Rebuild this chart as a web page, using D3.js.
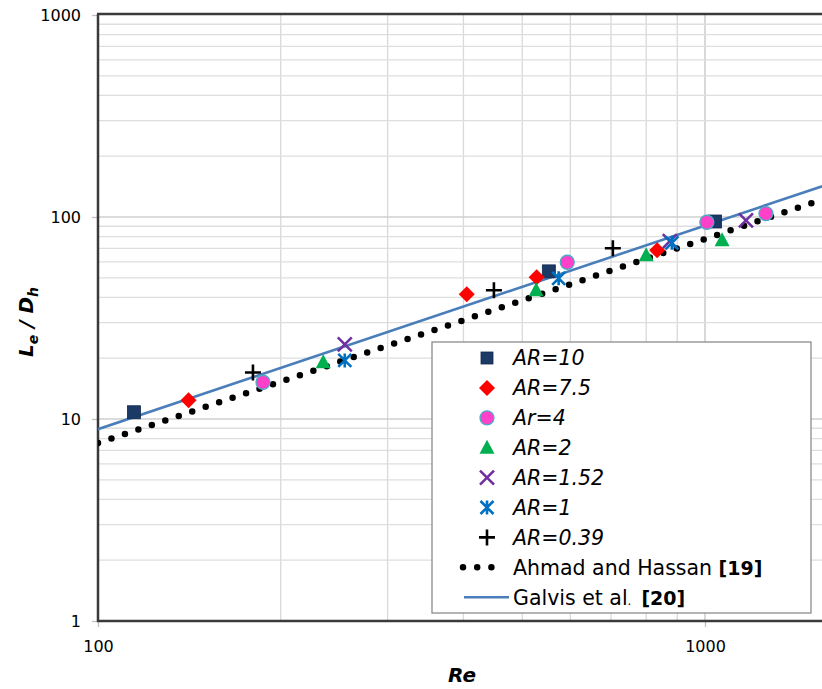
<!DOCTYPE html>
<html>
<head>
<meta charset="utf-8">
<script src="https://cdn.jsdelivr.net/npm/d3@7"></script>
<style>
  html, body { margin: 0; padding: 0; background: #fff; }
  svg { display: block; }
</style>
</head>
<body>
<svg id="chart" width="822" height="689"></svg>
<script>
// Entrance length vs Reynolds number, measured for several aspect ratios
const seriesNames = ["AR=10", "AR=7.5", "Ar=4", "AR=2", "AR=1.52", "AR=1", "AR=0.39"];
const ar10   = [[114.6, 10.8], [553, 53.8], [1039, 95]];
const ar7_5  = [[141, 12.4], [405, 41.4], [528, 50.3], [834, 68.4]];
const ar4    = [[187, 15.2], [593, 59.7], [1007, 94.2], [1260, 104]];
const ar2    = [[235, 19.1], [527, 43.4], [800, 64.6], [1067, 76.7]];
const ar1_52 = [[255, 23.4], [875, 76], [1168, 96.3]];
const ar1    = [[255, 19.5], [574, 49.7], [882, 74.5]];
const ar0_39 = [[180, 17.0], [449, 43.4], [705, 70]];

// Correlations (straight lines on log-log axes), end points
const ahmadHassan = [[100, 7.6], [1560, 122]];
const galvis      = [[100, 8.9], [1560, 142]];

const xTickLabels = ["100", "1000"];
const yTickLabels = ["1", "10", "100", "1000"];

const svg = d3.select("#chart");
const W = 822, H = 689;
const plotLeft = 98, plotTop = 15, plotBottom = 621;

const x = d3.scaleLog().domain([100, 1000]).range([plotLeft, 705]);
const y = d3.scaleLog().domain([1, 1000]).range([plotBottom, plotTop]);
const xMax = x.invert(W);

svg.append("defs").append("clipPath").attr("id", "plotClip")
  .append("rect").attr("x", plotLeft).attr("y", plotTop - 2).attr("width", W - plotLeft).attr("height", plotBottom - plotTop + 4);

// Grid lines (major and minor)
const grid = svg.append("g");
const xGridVals = [];
for (let d = 100; d <= 1000; d *= 10)
  for (let m = 1; m <= 9; m++) { const v = m * d; if (v > 100 && v <= xMax) xGridVals.push(v); }
const yGridVals = [];
for (let d = 1; d <= 100; d *= 10)
  for (let m = 1; m <= 9; m++) { const v = m * d; if (v > 1) yGridVals.push(v); }

grid.selectAll("line.vx").data(xGridVals).join("line")
  .attr("x1", d => x(d)).attr("x2", d => x(d))
  .attr("y1", plotTop).attr("y2", plotBottom)
  .attr("stroke", d => d === 1000 ? "#c4c4c4" : "#d9d9d9")
  .attr("stroke-width", 1.3);
grid.selectAll("line.hy").data(yGridVals).join("line")
  .attr("x1", plotLeft).attr("x2", W)
  .attr("y1", d => y(d)).attr("y2", d => y(d))
  .attr("stroke", d => (d === 10 || d === 100) ? "#cfcfcf" : "#dedede")
  .attr("stroke-width", 1.3);

// Axes
const xAxis = d3.axisBottom(x).tickValues([100, 1000]).tickSize(6).tickFormat((d, i) => xTickLabels[i]);
const yAxis = d3.axisLeft(y).tickValues([1, 10, 100, 1000]).tickSize(6).tickFormat((d, i) => yTickLabels[i]);

const gx = svg.append("g").attr("transform", `translate(0,${plotBottom})`).call(xAxis);
gx.select(".domain").remove();
gx.selectAll(".tick line").attr("stroke", "#bfbfbf").attr("stroke-width", 1.3);
gx.selectAll(".tick text").attr("font-family", "DejaVu Sans").attr("font-size", 16)
  .attr("fill", "#000").attr("y", 20).attr("dy", "0.71em");

const gy = svg.append("g").attr("transform", `translate(${plotLeft},0)`).call(yAxis);
gy.select(".domain").remove();
gy.selectAll(".tick line").attr("stroke", "#bfbfbf").attr("stroke-width", 1.3);
gy.selectAll(".tick text").attr("font-family", "DejaVu Sans").attr("font-size", 16)
  .attr("fill", "#000").attr("x", -17);

// Frame lines
svg.append("line").attr("x1", plotLeft).attr("x2", plotLeft).attr("y1", plotTop - 1).attr("y2", plotBottom + 1)
  .attr("stroke", "#3a3a3a").attr("stroke-width", 2.5);
svg.append("line").attr("x1", plotLeft - 1).attr("x2", W).attr("y1", plotBottom).attr("y2", plotBottom)
  .attr("stroke", "#3a3a3a").attr("stroke-width", 2.5);
svg.append("line").attr("x1", plotLeft - 1).attr("x2", W).attr("y1", plotTop - 1).attr("y2", plotTop - 1)
  .attr("stroke", "#3a3a3a").attr("stroke-width", 2.5);

const plot = svg.append("g").attr("clip-path", "url(#plotClip)");
const line = d3.line().x(d => x(d[0])).y(d => y(d[1]));

plot.append("path").datum(ahmadHassan).attr("d", line)
  .attr("fill", "none").attr("stroke", "#000").attr("stroke-width", 6.5)
  .attr("stroke-linecap", "round").attr("stroke-dasharray", "0 14.2");
plot.append("path").datum(galvis).attr("d", line)
  .attr("fill", "none").attr("stroke", "#4a7ebb").attr("stroke-width", 2.6);

// Marker drawers
const markers = {
  "AR=10": (g) => g.append("rect").attr("x", -6.5).attr("y", -6.5).attr("width", 13).attr("height", 13)
      .attr("fill", "#1b3a66").attr("stroke", "#10294d").attr("stroke-width", 0.8),
  "AR=7.5": (g) => g.append("path").attr("d", "M0,-8L8,0L0,8L-8,0Z").attr("fill", "#ff0000"),
  "Ar=4": (g) => g.append("circle").attr("r", 7).attr("fill", "#ff40c8").attr("stroke", "#4bacc6").attr("stroke-width", 1.3),
  "AR=2": (g) => g.append("path").attr("d", "M0,-8L7.5,6L-7.5,6Z").attr("fill", "#00b050"),
  "AR=1.52": (g) => g.append("path").attr("d", "M-7,-7L7,7M7,-7L-7,7")
      .attr("stroke", "#7030a0").attr("stroke-width", 2.6).attr("fill", "none"),
  "AR=1": (g) => g.append("path").attr("d", "M-6.5,-6.5L6.5,6.5M6.5,-6.5L-6.5,6.5M0,-7L0,7")
      .attr("stroke", "#0070c0").attr("stroke-width", 2.6).attr("fill", "none"),
  "AR=0.39": (g) => g.append("path").attr("d", "M-8,0L8,0M0,-8L0,8")
      .attr("stroke", "#000").attr("stroke-width", 2.6).attr("fill", "none")
};

const seriesData = [ar10, ar7_5, ar4, ar2, ar1_52, ar1, ar0_39];
seriesNames.forEach((name, i) => {
  plot.append("g").selectAll("g").data(seriesData[i]).join("g")
    .attr("transform", d => `translate(${x(d[0])},${y(d[1])})`)
    .each(function () { markers[name](d3.select(this)); });
});

// Legend
const lg = svg.append("g");
lg.append("rect").attr("x", 432).attr("y", 342).attr("width", 379).attr("height", 271)
  .attr("fill", "#fff").attr("stroke", "#8c8c8c").attr("stroke-width", 1.3);
const rowY = i => 358 + i * 29.9;
seriesNames.forEach((name, i) => {
  const g = lg.append("g").attr("transform", `translate(487,${rowY(i)})`);
  markers[name](g);
  if (name === "AR=10") g.select("rect").attr("x", -6).attr("y", -6).attr("width", 12).attr("height", 12);
  lg.append("text").attr("x", 513).attr("y", rowY(i)).attr("dy", "0.36em")
    .attr("font-family", "DejaVu Sans").attr("font-style", "oblique").attr("font-size", 20.5)
    .text(name);
});
const rA = rowY(7), rG = rowY(8);
lg.append("line").attr("x1", 463).attr("x2", 500).attr("y1", rA).attr("y2", rA)
  .attr("stroke", "#000").attr("stroke-width", 6.5).attr("stroke-linecap", "round").attr("stroke-dasharray", "0 14.2");
lg.append("line").attr("x1", 464).attr("x2", 509).attr("y1", rG).attr("y2", rG)
  .attr("stroke", "#4a7ebb").attr("stroke-width", 2.6);
const t1 = lg.append("text").attr("x", 513).attr("y", rA).attr("dy", "0.36em")
  .attr("font-family", "DejaVu Sans").attr("font-size", 20.5);
t1.append("tspan").text("Ahmad and Hassan ");
t1.append("tspan").attr("font-weight", "bold").attr("font-size", 19).text("[19]");
const t2 = lg.append("text").attr("x", 513).attr("y", rG).attr("dy", "0.36em")
  .attr("font-family", "DejaVu Sans").attr("font-size", 20.5);
t2.append("tspan").text("Galvis et al");
t2.append("tspan").attr("font-size", 12).text(".");
t2.append("tspan").attr("font-weight", "bold").attr("font-size", 19).attr("dx", 10).text("[20]");

// Axis titles
const yl = svg.append("text").attr("transform", "translate(33,322) rotate(-90)")
  .attr("text-anchor", "middle").attr("font-family", "DejaVu Sans").attr("font-weight", "bold")
  .attr("font-style", "oblique").attr("font-size", 20);
yl.append("tspan").text("L");
yl.append("tspan").attr("font-size", 14).attr("dy", 5).text("e");
yl.append("tspan").attr("dy", -5).text(" / D");
yl.append("tspan").attr("font-size", 14).attr("dy", 5).text("h");

svg.append("text").attr("x", 462).attr("y", 682).attr("text-anchor", "middle")
  .attr("font-family", "DejaVu Sans").attr("font-weight", "bold").attr("font-style", "oblique")
  .attr("font-size", 20).text("Re");
</script>
</body>
</html>
